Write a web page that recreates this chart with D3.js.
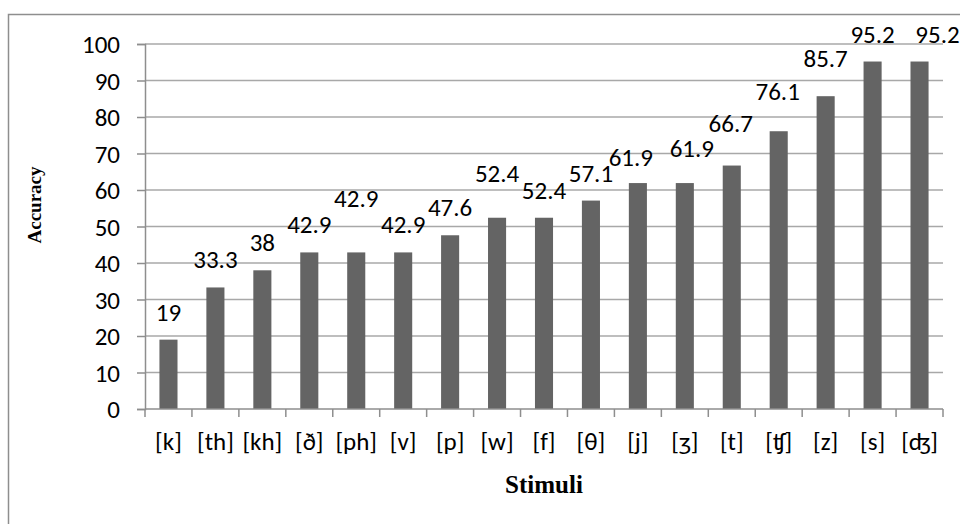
<!DOCTYPE html>
<html>
<head>
<meta charset="utf-8">
<script src="https://cdn.jsdelivr.net/npm/d3@7"></script>
<style>
  html, body { margin: 0; padding: 0; background: #fff; }
  svg { display: block; }
</style>
</head>
<body>
<svg id="chart" width="960" height="524"></svg>
<script>
// Stimulus categories and identification accuracy (%)
const stimuli = ["[k]", "[th]", "[kh]", "[ð]", "[ph]", "[v]", "[p]", "[w]", "[f]", "[θ]", "[j]", "[ʒ]", "[t]", "[ʧ]", "[z]", "[s]", "[ʤ]"];
const accuracy = [19, 33.3, 38, 42.9, 42.9, 42.9, 47.6, 52.4, 52.4, 57.1, 61.9, 61.9, 66.7, 76.1, 85.7, 95.2, 95.2];
const yTicks = [0, 10, 20, 30, 40, 50, 60, 70, 80, 90, 100];

// Hand nudges for data labels that were moved to avoid crowding (dx, dy in px)
const labelNudge = {
  "[ph]": [0, -26], "[w]": [0, -17], "[j]": [-7, 2], "[ʒ]": [7, -7],
  "[t]": [-1, -15], "[ʧ]": [-1, -12], "[z]": [0, -10], "[ʤ]": [18, 0]
};

const svg = d3.select("#chart");
const numFont = "'Carlito', 'Open Sans', 'DejaVu Sans', sans-serif";
const numSize = "25px";

const plotL = 145, plotR = 943, plotT = 44, plotB = 409;

const x = d3.scaleBand()
  .domain(stimuli)
  .range([plotL, plotR])
  .paddingInner(0.615)
  .paddingOuter(0.3075);

const y = d3.scaleLinear().domain([0, 100]).range([plotB, plotT]);

// Outer chart frame
svg.append("rect")
  .attr("x", 8.5).attr("y", 14.5)
  .attr("width", 980).attr("height", 540)
  .attr("fill", "none")
  .attr("stroke", "#8e8e8e")
  .attr("stroke-width", 1.5);

// Horizontal gridlines
svg.append("g")
  .selectAll("line")
  .data(yTicks.filter(d => d > 0))
  .join("line")
  .attr("x1", plotL).attr("x2", plotR)
  .attr("y1", d => y(d)).attr("y2", d => y(d))
  .attr("stroke", "#a8a8a8")
  .attr("stroke-width", 1.5);

// Y axis
const yAxis = svg.append("g")
  .attr("transform", `translate(${plotL},0)`)
  .call(d3.axisLeft(y).tickValues(yTicks).tickSize(8).tickPadding(17).tickFormat(d3.format("d")));
yAxis.select(".domain").attr("stroke", "#8e8e8e").attr("stroke-width", 1.5);
yAxis.selectAll(".tick line").attr("stroke", "#8e8e8e").attr("stroke-width", 1.5);
yAxis.selectAll(".tick text")
  .attr("font-family", numFont).attr("font-size", numSize)
  .attr("fill", "#000").attr("dy", "0.34em");

// Bars
svg.append("g")
  .selectAll("rect")
  .data(stimuli.map((s, i) => ({ s, v: accuracy[i] })))
  .join("rect")
  .attr("x", d => x(d.s))
  .attr("width", x.bandwidth())
  .attr("y", d => y(d.v))
  .attr("height", d => y(0) - y(d.v))
  .attr("fill", "#646464");

// X axis with ticks at category boundaries
const xg = svg.append("g").attr("transform", `translate(0,${plotB})`);
xg.append("line")
  .attr("x1", plotL).attr("x2", plotR)
  .attr("stroke", "#8e8e8e").attr("stroke-width", 1.5);
const step = x.step();
const bounds = d3.range(stimuli.length + 1).map(i => plotL + i * step);
xg.selectAll("line.b")
  .data(bounds)
  .join("line")
  .attr("class", "b")
  .attr("x1", d => d).attr("x2", d => d)
  .attr("y1", 0).attr("y2", 8)
  .attr("stroke", "#8e8e8e").attr("stroke-width", 1.5);
xg.selectAll("text")
  .data(stimuli)
  .join("text")
  .attr("x", d => x(d) + x.bandwidth() / 2)
  .attr("y", 41)
  .attr("text-anchor", "middle")
  .attr("font-family", numFont).attr("font-size", numSize)
  .attr("fill", "#000")
  .text(d => d);

// Value labels above bars
svg.append("g")
  .selectAll("text")
  .data(stimuli.map((s, i) => ({ s, v: accuracy[i] })))
  .join("text")
  .attr("x", d => x(d.s) + x.bandwidth() / 2 + (labelNudge[d.s] ? labelNudge[d.s][0] : 0))
  .attr("y", d => y(d.v) - 19 + (labelNudge[d.s] ? labelNudge[d.s][1] : 0))
  .attr("text-anchor", "middle")
  .attr("font-family", numFont).attr("font-size", numSize)
  .attr("fill", "#000")
  .text(d => d.v);

// Axis titles
svg.append("text")
  .attr("transform", "translate(41,205) rotate(-90)")
  .attr("text-anchor", "middle")
  .attr("font-family", "'Liberation Serif', 'Times New Roman', serif")
  .attr("font-weight", "bold")
  .attr("font-size", "19px")
  .text("Accuracy");

svg.append("text")
  .attr("x", 544).attr("y", 493)
  .attr("text-anchor", "middle")
  .attr("font-family", "'Liberation Serif', 'Times New Roman', serif")
  .attr("font-weight", "bold")
  .attr("font-size", "25px")
  .text("Stimuli");
</script>
</body>
</html>
